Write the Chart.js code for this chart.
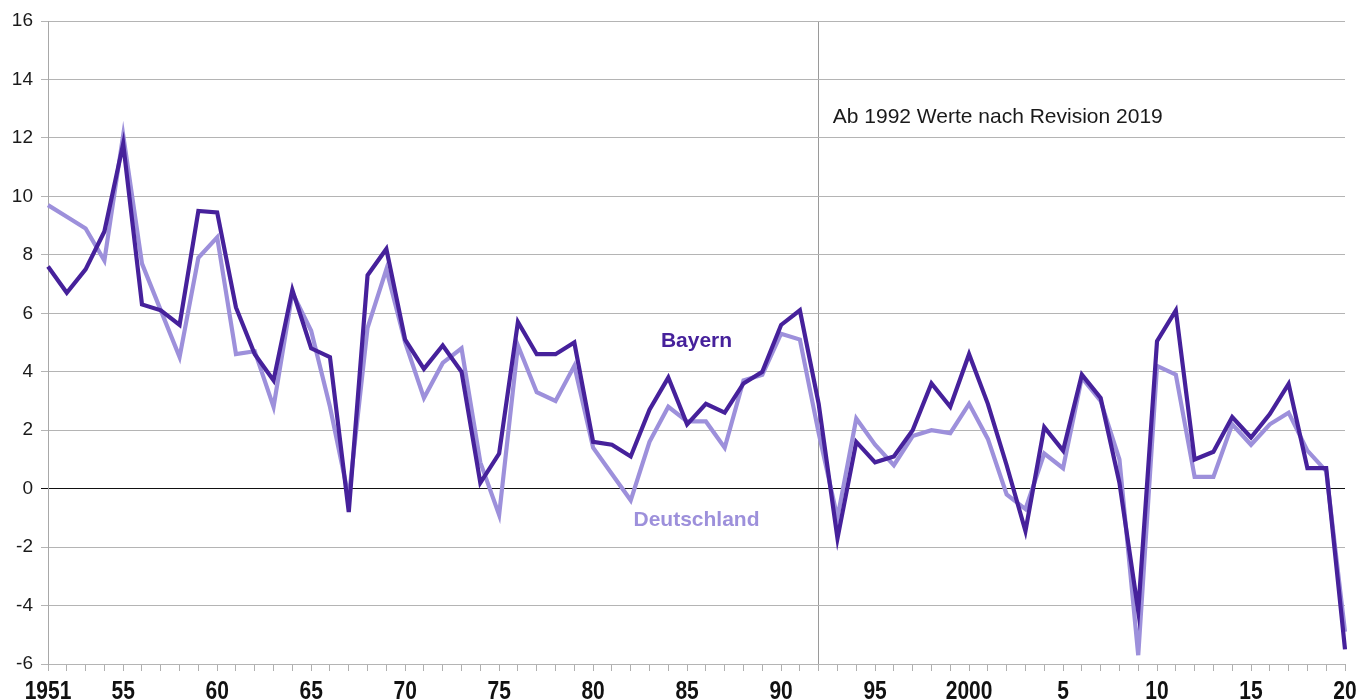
<!DOCTYPE html>
<html>
<head>
<meta charset="utf-8">
<script src="https://cdn.jsdelivr.net/npm/chart.js@4.4.1/dist/chart.umd.min.js"></script>
<style>
  html, body { margin: 0; padding: 0; background: #ffffff; }
  #wrap { width: 1359px; height: 700px; position: relative; }
</style>
</head>
<body>
<div id="wrap"><canvas id="c"></canvas></div>
<script>
const years = [1951,1952,1953,1954,1955,1956,1957,1958,1959,1960,
               1961,1962,1963,1964,1965,1966,1967,1968,1969,1970,
               1971,1972,1973,1974,1975,1976,1977,1978,1979,1980,
               1981,1982,1983,1984,1985,1986,1987,1988,1989,1990,
               1991,1992,1993,1994,1995,1996,1997,1998,1999,2000,
               2001,2002,2003,2004,2005,2006,2007,2008,2009,2010,
               2011,2012,2013,2014,2015,2016,2017,2018,2019,2020];

const bayern = [7.6,6.7,7.5,8.8,11.8,6.3,6.1,5.6,9.5,9.45,
                6.2,4.6,3.7,6.8,4.8,4.5,-0.8,7.3,8.2,5.1,
                4.1,4.9,4.0,0.2,1.2,5.7,4.6,4.6,5.0,1.6,
                1.5,1.1,2.7,3.8,2.2,2.9,2.6,3.6,4.0,5.6,
                6.1,2.9,-1.7,1.6,0.9,1.1,2.0,3.6,2.8,4.6,
                2.9,0.8,-1.45,2.1,1.3,3.9,3.1,0.2,-4.2,5.05,
                6.1,1.0,1.26,2.45,1.75,2.55,3.58,0.7,0.7,-5.5];

const deutschland = [9.7,9.3,8.9,7.8,12.1,7.7,6.1,4.5,7.9,8.6,
                     4.6,4.7,2.8,6.7,5.4,2.8,-0.3,5.5,7.5,5.0,
                     3.1,4.3,4.8,0.9,-0.9,4.9,3.3,3.0,4.2,1.4,
                     0.5,-0.4,1.6,2.8,2.3,2.3,1.4,3.7,3.9,5.3,
                     5.1,1.9,-1.0,2.4,1.5,0.8,1.8,2.0,1.9,2.9,
                     1.7,-0.2,-0.7,1.2,0.7,3.8,3.0,1.0,-5.7,4.2,
                     3.9,0.4,0.4,2.2,1.5,2.2,2.6,1.3,0.6,-4.9];

const labeledYears = [1951,1955,1960,1965,1970,1975,1980,1985,1990,1995,2000,2005,2010,2015,2020];
const labelTexts   = ['1951','55','60','65','70','75','80','85','90','95','2000','5','10','15','20'];

const yTicks = { min: -6, max: 16, step: 2 };
const revisionYear = 1992;

const DARK = '#46219b';
const LIGHT = '#9d90db';

const annotations = [
  { text: 'Ab 1992 Werte nach Revision 2019', year: 1992.75, value: 12.7, align: 'left', font: '21px "Liberation Sans", Arial, sans-serif', color: '#1a1a1a' },
  { text: 'Bayern', year: 1985.5, value: 5.05, align: 'center', font: 'bold 21px "Liberation Sans", Arial, sans-serif', color: DARK },
  { text: 'Deutschland', year: 1985.5, value: -1.08, align: 'center', font: 'bold 21px "Liberation Sans", Arial, sans-serif', color: LIGHT }
];

function xPixelAt(xs, year) {
  const idx = year - years[0];
  const lo = Math.floor(idx), hi = Math.ceil(idx);
  const pl = xs.getPixelForValue(lo), ph = xs.getPixelForValue(hi);
  return lo === hi ? pl : pl + (ph - pl) * (idx - lo);
}

const textPlugin = {
  id: 'texts',
  afterDraw(chart) {
    const ctx = chart.ctx;
    const xs = chart.scales.x, ys = chart.scales.y;
    ctx.save();
    annotations.forEach(a => {
      ctx.font = a.font;
      ctx.fillStyle = a.color;
      ctx.textAlign = a.align;
      ctx.textBaseline = 'middle';
      ctx.fillText(a.text, xPixelAt(xs, a.year), ys.getPixelForValue(a.value));
    });
    // condensed bold year labels under the x axis
    ctx.font = 'bold 25px "Liberation Sans", Arial, sans-serif';
    ctx.fillStyle = '#111';
    ctx.textAlign = 'center';
    ctx.textBaseline = 'alphabetic';
    const base = xs.top + 35;
    labeledYears.forEach((yr, k) => {
      const px = xPixelAt(xs, yr);
      ctx.save();
      ctx.translate(px, base);
      ctx.scale(0.84, 1);
      ctx.fillText(labelTexts[k], 0, 0);
      ctx.restore();
    });
    ctx.restore();
  }
};

new Chart(document.getElementById('c'), {
  type: 'line',
  data: {
    labels: years.map(String),
    datasets: [
      { label: 'Bayern', data: bayern, borderColor: DARK, borderWidth: 4.2, pointRadius: 0, tension: 0, borderJoinStyle: 'miter', order: 1 },
      { label: 'Deutschland', data: deutschland, borderColor: LIGHT, borderWidth: 4.2, pointRadius: 0, tension: 0, borderJoinStyle: 'miter', order: 2 }
    ]
  },
  options: {
    responsive: true,
    maintainAspectRatio: false,
    animation: false,
    devicePixelRatio: 1,
    layout: { padding: { top: 21, right: 14, left: 0, bottom: 0 } },
    plugins: { legend: { display: false }, tooltip: { enabled: false } },
    scales: {
      x: {
        type: 'category',
        offset: false,
        afterFit(s) { s.height = 36; s.paddingLeft = 0; s.paddingRight = 0; },
        border: { display: false },
        grid: {
          drawOnChartArea: true,
          drawTicks: true,
          lineWidth: 1,
          color: c => (years[c.index] === revisionYear ? '#9a9a9a' : 'rgba(0,0,0,0)'),
          tickColor: '#b0b0b0',
          tickLength: 7
        },
        ticks: {
          display: false,
          autoSkip: false,
          maxRotation: 0,
          minRotation: 0
        }
      },
      y: {
        min: yTicks.min,
        max: yTicks.max,
        afterFit(s) { s.width = 48; },
        border: { display: true, color: '#a8a8a8', width: 1 },
        grid: {
          lineWidth: 1,
          color: c => (c.tick && c.tick.value === 0 ? '#111111' : '#b4b4b4'),
          tickColor: c => (c.tick && c.tick.value === 0 ? '#111111' : '#b4b4b4'),
          tickLength: 7
        },
        ticks: {
          stepSize: yTicks.step,
          padding: 8,
          color: '#1a1a1a',
          font: { family: '"Liberation Sans", Arial, sans-serif', size: 19 }
        }
      }
    }
  },
  plugins: [textPlugin]
});
</script>
</body>
</html>
